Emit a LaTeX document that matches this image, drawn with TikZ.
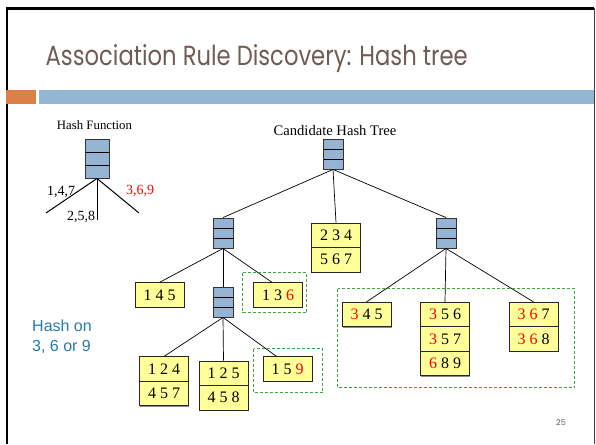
\documentclass[tikz,border=0pt]{standalone}
\usepackage{fontspec}
\setmainfont{Liberation Serif}
\newfontfamily\titlefont{Poppins}
\newfontfamily\notefont{Liberation Sans}
\usetikzlibrary{calc,shadows}

\definecolor{titlebrown}{RGB}{112,92,86}
\definecolor{barorange}{RGB}{221,128,71}
\definecolor{barblue}{RGB}{148,182,210}
\definecolor{hashblue}{RGB}{149,179,210}
\definecolor{leafyellow}{RGB}{255,255,153}
\definecolor{groupgreen}{RGB}{60,165,60}
\definecolor{noteblue}{RGB}{40,122,176}

\newcommand\hot[1]{\textcolor{red}{#1}}

\begin{document}
\begin{tikzpicture}[x=1pt,y=-1pt,
  hashnode/.style={draw=black!80, fill=hashblue, line width=0.9pt,
    minimum width=20pt, minimum height=30pt, inner sep=0pt,
    path picture={\foreach \f in {1,2}{
      \draw[black, line width=0.9pt]
        ($(path picture bounding box.north west)!\f/3!(path picture bounding box.south west)$) --
        ($(path picture bounding box.north east)!\f/3!(path picture bounding box.south east)$);}}},
  bighash/.style={hashnode, minimum width=24pt, minimum height=39pt},
  leaf/.style={draw=black!85, fill=leafyellow, line width=0.7pt,
    minimum width=49pt, minimum height=24.5pt, inner sep=0pt,
    font=\fontsize{16}{16}\selectfont,
    drop shadow={shadow xshift=0.8pt, shadow yshift=-0.8pt, fill=black!45, opacity=1}},
  edge/.style={draw=black, line width=0.7pt},
  group/.style={draw=groupgreen, line width=1pt, dash pattern=on 3pt off 2pt},
  lbl/.style={inner sep=0pt, font=\fontsize{14}{14}\selectfont}
]
\useasboundingbox (0,0) rectangle (596,444);
\fill[white] (0,0) rectangle (596,444);

% slide frame
\draw[black, line width=2.5pt] (7,7.5) -- (7,444);
\draw[black, line width=2.2pt] (5.8,8.6) -- (594,8.6);
\draw[black!75, line width=1pt] (594.5,8) -- (594.5,444);

% title and header bars
\node[anchor=base west, inner sep=0pt, text=titlebrown] (title) at (45.5,65)
  {\resizebox{422pt}{21pt}{\titlefont Association Rule Discovery: Hash tree}};
\fill[barorange] (6,90) rectangle (36,104);
\fill[barblue] (39,90) rectangle (594,104);

% hash function legend
\node[inner sep=0pt, font=\fontsize{12.8}{12.8}\selectfont] (hflabel) at (94.5,125) {Hash Function};
\node[bighash] (hf) at (97,158.5) {};
\coordinate (hfL) at (46,213);
\coordinate (hfM) at (97,220);
\coordinate (hfR) at (139,213);
\draw[black, line width=1pt] (hf.south) -- (hfL);
\draw[black, line width=1pt] (hf.south) -- (hfM);
\draw[black, line width=1pt] (hf.south) -- (hfR);
\node[lbl] (k147) at (61,192) {1,4,7};
\node[lbl] (k258) at (81,217) {2,5,8};
\node[lbl, text=red] (k369) at (140,191) {3,6,9};

% candidate hash tree
\node[inner sep=0pt, font=\fontsize{14.6}{14.6}\selectfont] (treelabel) at (335,131) {Candidate Hash Tree};
\node[hashnode] (root) at (333,154) {};
\node[hashnode] (hl) at (223,233) {};
\node[hashnode] (hr) at (446,233) {};
\node[hashnode] (hs) at (223,302) {};

% leaves
\node[leaf] (l234a) at (336,235.25) {2 3 4};
\node[leaf] (l234b) at (336,259.75) {5 6 7};

\node[leaf] (l145) at (159.5,295) {1 4 5};
\node[leaf] (l136) at (278,295) {1 3 \hot{6}};

\node[leaf] (l124a) at (164,369) {1 2 4};
\node[leaf] (l124b) at (164,393.5) {4 5 7};
\node[leaf] (l125a) at (223.5,373.25) {1 2 5};
\node[leaf] (l125b) at (223.5,397.75) {4 5 8};
\node[leaf] (l159) at (287.5,369) {1 5 \hot{9}};

\node[leaf] (l345) at (366.5,314.5) {\hot{3} 4 5};
\node[leaf] (l356a) at (445,314.5) {\hot{3} 5 6};
\node[leaf] (l356b) at (445,339) {\hot{3} 5 7};
\node[leaf] (l356c) at (445,363.5) {\hot{6} 8 9};
\node[leaf] (l367a) at (533.5,314.5) {\hot{3} \hot{6} 7};
\node[leaf] (l367b) at (533.5,339) {\hot{3} \hot{6} 8};

% tree edges
\draw[edge] (root.south) -- (hl.north);
\draw[edge] (root.south) -- (l234a.north);
\draw[edge] (root.south) -- (hr.north);
\draw[edge] (hl.south) -- (l145.north);
\draw[edge] (hl.south) -- (hs.north);
\draw[edge] (hl.south) -- (l136.115);
\draw[edge] (hs.south) -- (l124a.north);
\draw[edge] (hs.south) -- (l125a.north);
\draw[edge] (hs.south) -- (l159.131);
\draw[edge] (hr.south) -- (l345.north);
\draw[edge] (hr.south) -- (l356a.north);
\draw[edge] (hr.south) -- (l367a.north);

% dashed groups of matching candidates
\draw[group] (242.5,272.5) rectangle (306.5,312.5);
\draw[group] (253.5,348.5) rectangle (322.5,392.5);
\draw[group] (337.5,288.5) rectangle (574.5,387.5);

% side note and page number
\node[anchor=north west, inner sep=0pt, align=left, text=noteblue,
  font=\notefont\fontsize{16}{20}\selectfont] (note) at (32,320) {Hash on\\3, 6 or 9};
\node[inner sep=0pt, text=titlebrown, font=\titlefont\fontsize{8}{8}\selectfont] (pgno) at (561,423) {25};
\end{tikzpicture}
\end{document}
